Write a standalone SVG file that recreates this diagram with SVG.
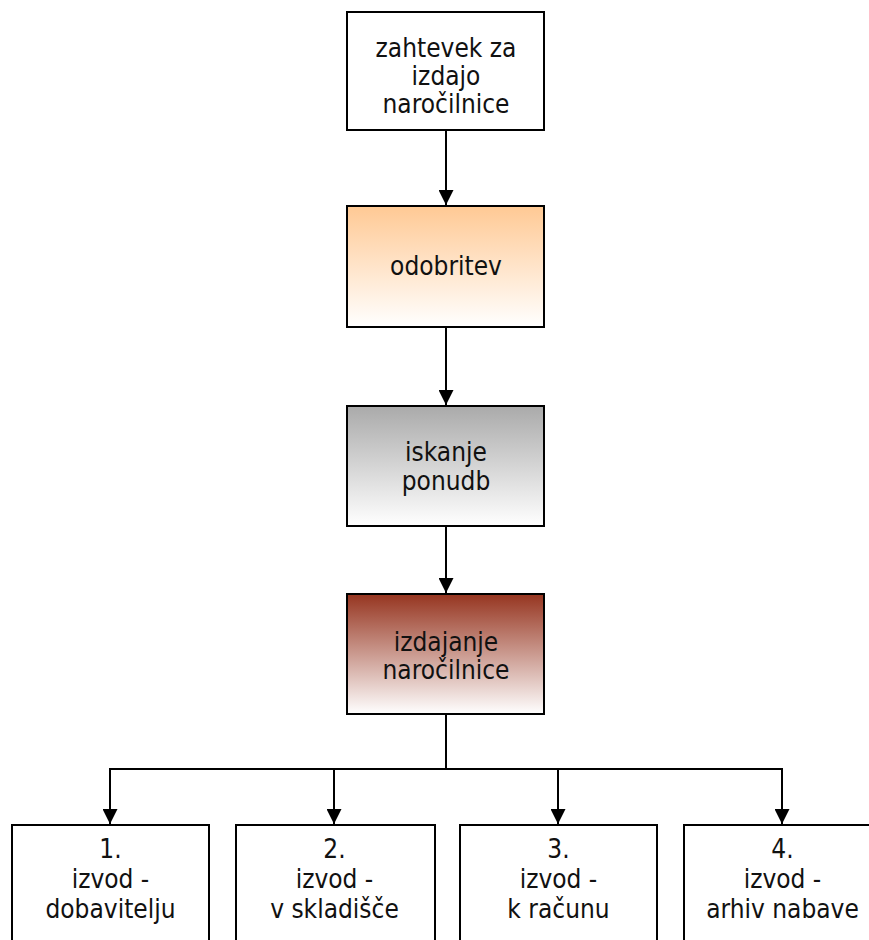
<svg xmlns="http://www.w3.org/2000/svg" width="869" height="940" viewBox="0 0 869 940">
  <defs>
    <linearGradient id="gPeach" x1="0" y1="0" x2="0" y2="1">
      <stop offset="0" stop-color="#FFC994"/>
      <stop offset="1" stop-color="#FFFFFF"/>
    </linearGradient>
    <linearGradient id="gGray" x1="0" y1="0" x2="0" y2="1">
      <stop offset="0" stop-color="#AAAAAA"/>
      <stop offset="1" stop-color="#FFFFFF"/>
    </linearGradient>
    <linearGradient id="gRed" x1="0" y1="0" x2="0" y2="1">
      <stop offset="0" stop-color="#963520"/>
      <stop offset="1" stop-color="#FFFFFF"/>
    </linearGradient>
    <marker id="arr" markerWidth="15" markerHeight="15" refX="15" refY="7.5" orient="auto" markerUnits="userSpaceOnUse">
      <path d="M0,0 L15,7.5 L0,15 Z" fill="#000"/>
    </marker>
  </defs>
  <style>
    .box { stroke: #000; stroke-width: 2; }
    .t { font-family: "DejaVu Sans Condensed", "DejaVu Sans", sans-serif; font-size: 26px; fill: #111; text-anchor: middle; }
    .c { fill: none; stroke: #000; stroke-width: 2; }
  </style>
  <rect width="869" height="940" fill="#fff"/>

  <g id="connectors">
    <path class="c" d="M446,130 V205" marker-end="url(#arr)"/>
    <path class="c" d="M446,327 V405" marker-end="url(#arr)"/>
    <path class="c" d="M446,526 V593" marker-end="url(#arr)"/>
    <path class="c" d="M446,714 V769"/>
    <path class="c" d="M110,769 H782"/>
    <path class="c" d="M110,768 V824" marker-end="url(#arr)"/>
    <path class="c" d="M334,768 V824" marker-end="url(#arr)"/>
    <path class="c" d="M558,768 V824" marker-end="url(#arr)"/>
    <path class="c" d="M782,768 V824" marker-end="url(#arr)"/>
  </g>

  <g id="n1">
    <rect class="box" x="347" y="12" width="197" height="118" fill="#fff"/>
    <text class="t" x="446" y="57">zahtevek za</text>
    <text class="t" x="446" y="85">izdajo</text>
    <text class="t" x="446" y="113">naročilnice</text>
  </g>
  <g id="n2">
    <rect class="box" x="347" y="206" width="197" height="121" fill="url(#gPeach)"/>
    <text class="t" x="446" y="275">odobritev</text>
  </g>
  <g id="n3">
    <rect class="box" x="347" y="406" width="197" height="120" fill="url(#gGray)"/>
    <text class="t" x="446" y="461">iskanje</text>
    <text class="t" x="446" y="490">ponudb</text>
  </g>
  <g id="n4">
    <rect class="box" x="347" y="594" width="197" height="120" fill="url(#gRed)"/>
    <text class="t" x="446" y="651">izdajanje</text>
    <text class="t" x="446" y="679">naročilnice</text>
  </g>

  <g id="b1">
    <rect class="box" x="12" y="825" width="197" height="130" fill="#fff"/>
    <text class="t" x="110.5" y="858">1.</text>
    <text class="t" x="110.5" y="888">izvod -</text>
    <text class="t" x="110.5" y="918">dobavitelju</text>
  </g>
  <g id="b2">
    <rect class="box" x="236" y="825" width="199" height="130" fill="#fff"/>
    <text class="t" x="334.5" y="858">2.</text>
    <text class="t" x="334.5" y="888">izvod -</text>
    <text class="t" x="334.5" y="918">v skladišče</text>
  </g>
  <g id="b3">
    <rect class="box" x="460" y="825" width="197" height="130" fill="#fff"/>
    <text class="t" x="558.5" y="858">3.</text>
    <text class="t" x="558.5" y="888">izvod -</text>
    <text class="t" x="558.5" y="918">k računu</text>
  </g>
  <g id="b4">
    <rect class="box" x="684" y="825" width="197" height="130" fill="#fff"/>
    <text class="t" x="782.5" y="858">4.</text>
    <text class="t" x="782.5" y="888">izvod -</text>
    <text class="t" x="782.5" y="918">arhiv nabave</text>
  </g>
</svg>
